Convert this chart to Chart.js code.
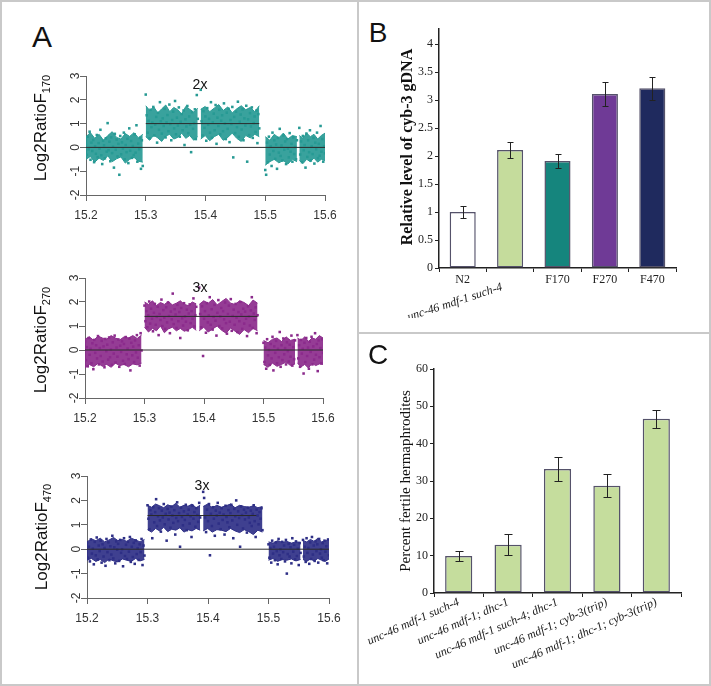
<!DOCTYPE html>
<html>
<head>
<meta charset="utf-8">
<script src="https://cdn.jsdelivr.net/npm/chart.js@4.4.1/dist/chart.umd.min.js"></script>
<style>
  body { margin: 0; background: #fff; }
  #fig { position: relative; width: 711px; height: 686px; overflow: hidden; background: #fff; }
  .line { position: absolute; background: #c9c9c9; }
  canvas { position: absolute; }
  .txt { position: absolute; transform: translate(-50%, -50%); white-space: nowrap; line-height: 1; color: #111; }
  .rot { transform: translate(-50%, -50%) rotate(-90deg); }
  .sans { font-family: "Liberation Sans", Arial, sans-serif; }
  .serif { font-family: "Liberation Serif", "Times New Roman", serif; }
</style>
</head>
<body>
<div id="fig">
  <div class="line" style="left:0;top:0;width:711px;height:2px"></div>
  <div class="line" style="left:0;top:684px;width:711px;height:2px"></div>
  <div class="line" style="left:0;top:0;width:2px;height:686px"></div>
  <div class="line" style="left:709px;top:0;width:2px;height:686px"></div>
  <div class="line" style="left:357px;top:0;width:2px;height:686px"></div>
  <div class="line" style="left:357px;top:332px;width:354px;height:2px"></div>

  <canvas id="a1" width="325" height="166" style="left:20px;top:64px"></canvas>
  <canvas id="a2" width="323" height="167" style="left:20px;top:266px"></canvas>
  <canvas id="a3" width="329" height="169" style="left:20px;top:464px"></canvas>
  <canvas id="b" width="292" height="299" style="left:399px;top:19px"></canvas>
  <canvas id="c" width="336" height="324" style="left:360px;top:359px"></canvas>

  <div class="txt sans" style="left:42px;top:37px;font-size:30px">A</div>
  <div class="txt sans" style="left:378px;top:33px;font-size:28px">B</div>
  <div class="txt sans" style="left:378px;top:355px;font-size:28px">C</div>

  <div class="txt sans" style="left:200px;top:84px;font-size:14px">2x</div>
  <div class="txt sans" style="left:200px;top:287px;font-size:14px">3x</div>
  <div class="txt sans" style="left:202px;top:485px;font-size:14px">3x</div>

  <div class="txt sans rot" style="left:42px;top:128px;font-size:17px">Log2RatioF<sub style="font-size:11px">170</sub></div>
  <div class="txt sans rot" style="left:42px;top:340px;font-size:17px">Log2RatioF<sub style="font-size:11px">270</sub></div>
  <div class="txt sans rot" style="left:43px;top:537px;font-size:17px">Log2RatioF<sub style="font-size:11px">470</sub></div>

  <div class="txt serif rot" style="left:407px;top:147px;font-size:16px;font-weight:bold">Relative level of cyb-3 gDNA</div>
  <div class="txt serif rot" style="left:405px;top:481px;font-size:15px">Percent fertile hermaphrodites</div>
</div>

<script>
// ---- panel A: copy-number probes (Mb on x, log2 ratio on y)
const xTicksA = [15.2, 15.3, 15.4, 15.5, 15.6];
const yTicksA = [-2, -1, 0, 1, 2, 3];
const segStart = [15.2, 15.3, 15.392, 15.5, 15.557];
const segEnd = [15.295, 15.387, 15.49, 15.553, 15.6];

// scattered probes, one list per segment
const f170Left = [0.12,-0.31,0.45,-0.08,0.66,-0.52,0.2,-0.15,0.31,-0.62,0.05,-0.27,0.52,-0.41,0.18,-0.05,0.74,-0.33,-0.7,0.28,0.09,-0.46,0.38,-0.18,1.02,-0.12,0.24,-0.58,0.42,-0.24,0.03,-0.85,0.57,-0.1,0.33,-0.38,0.15,-1.15,0.48,-0.29,0.21,-0.05,0.62,-0.5,0.1,-0.2,0.36,-0.66,0.8,-0.14,0.27,-0.44,0.06,-0.32,0.55,-0.22,0.93,-0.6,0.16,-0.08,0.4,-0.9,0.3,-0.78];
const f170GainA = [2.22,1.35,0.62,1.12,0.38,1.58,0.85,1.04,1.7,0.5,0.96,1.28,0.2,1.45,0.74,1.9,1.1,0.58,1.22,0.9,1.62,0.42,1.05,1.36,0.68,1.8,0.98,0.3,1.15,1.5,0.8,1.95,0.55,1.25,0.92,1.68,0.45,1.08,1.4,0.72,1.55,0.1,1.18,0.88,1.74,0.6,1.3,0.95,-0.2,1.48,0.78,1.02,1.6,0.35,2.2,1.2];
const f170GainB = [2.42,1.1,0.5,1.52,0.82,1.3,0.28,1.65,0.95,1.2,0.62,1.9,0.4,1.05,1.42,0.72,1.78,0.15,1.25,0.9,1.58,0.55,1.12,1.35,0.68,1.85,1.0,0.35,1.46,0.78,1.62,0.22,1.15,0.98,1.7,-0.42,1.28,0.6,1.5,0.85,1.92,0.45,1.08,1.38,0.75,1.6,0.3,1.22,0.92,1.75,-0.6,1.18,0.52,1.44,0.88,1.68,0.4,1.02,1.3,0.65,1.55,0.18,1.4,0.8];
const f170RightA = [-0.95,-1.15,0.2,-0.62,0.45,-0.3,0.05,-0.78,0.62,-0.15,0.3,-0.48,0.12,-0.9,0.4,-0.22,0.78,-0.36,0.08,-0.55,0.5,-0.1,0.25,-0.7,0.35,-0.05,-0.42,0.6,-0.18,0.15,-0.6,0.42,-0.28,0.02,-0.5,0.3];
const f170RightB = [0.82,-0.3,0.25,-0.62,0.48,-0.12,0.1,-0.85,0.58,-0.4,0.3,-0.2,0.72,-0.55,0.05,-0.28,0.4,-0.68,0.2,-0.08,0.62,-0.45,0.15,-0.35,0.9,-0.18,0.35,-0.6,0.05,-0.25];
// upper / lower edge of the dense cloud in each segment
const f170Upper = [
  [0.45,0.62,0.38,0.55,0.3,0.5,0.66,0.42,0.35,0.58,0.46,0.62,0.4,0.55],
  [1.75,1.55,1.7,1.45,1.62,1.78,1.5,1.68,1.58,1.4,1.72,1.6,1.48,1.65],
  [1.6,1.72,1.5,1.65,1.8,1.55,1.7,1.45,1.62,1.75,1.58,1.68,1.5,1.75],
  [0.45,0.3,0.55,0.4,0.6,0.35,0.5,0.45],
  [0.5,0.38,0.6,0.45,0.55,0.35,0.5,0.6],
];
const f170Lower = [
  [-0.5,-0.38,-0.62,-0.45,-0.55,-0.35,-0.6,-0.48,-0.4,-0.66,-0.5,-0.42,-0.58,-0.62],
  [0.45,0.3,0.52,0.4,0.25,0.48,0.55,0.35,0.42,0.6,0.38,0.5,0.3,0.45],
  [0.35,0.5,0.28,0.45,0.55,0.3,0.42,0.6,0.38,0.25,0.5,0.4,0.55,0.45],
  [-0.75,-0.6,-0.5,-0.65,-0.55,-0.7,-0.5,-0.6],
  [-0.55,-0.68,-0.5,-0.6,-0.45,-0.62,-0.5,-0.55],
];
const f170Gain = 1.0;

const f270Left = [0.35,-0.42,0.12,-0.68,0.5,-0.2,0.05,-0.55,0.28,-0.8,0.42,-0.12,0.2,-0.35,0.58,-0.6,0.08,-0.25,0.38,-0.48,0.15,-0.72,0.46,-0.05,0.22,-0.4,0.52,-0.3,0.02,-0.62,0.32,-0.15,0.6,-0.52,0.1,-0.28,0.44,-0.7,0.18,-0.08,0.36,-0.45,0.25,-0.58,0.54,-0.18,0.06,-0.38,0.48,-0.85,0.3,-0.22,0.14,-0.5,0.4,-0.1,0.62,-0.32,0.2,-0.65,0.7,-0.02];
const f270GainA = [1.85,1.2,1.62,0.95,1.45,2.02,1.1,1.72,1.3,0.78,1.55,1.92,1.05,1.38,1.8,0.62,1.5,1.25,2.1,1.0,1.66,1.35,0.88,1.78,1.15,1.98,1.42,0.7,1.6,1.28,2.35,1.08,1.7,1.48,0.92,1.88,1.2,1.58,0.5,1.75,1.32,1.02,1.95,1.4,1.18,1.68,0.82,1.52,1.9,1.12,1.62,1.3,2.15,0.98,1.45,1.8];
const f270GainB = [2.6,1.5,0.95,1.82,-0.25,1.3,1.62,0.72,1.95,1.15,1.45,2.2,1.05,1.7,0.85,1.38,1.88,1.22,0.6,1.55,2.08,1.0,1.4,1.75,0.9,1.62,1.28,1.98,1.12,0.68,1.5,1.85,1.18,2.12,0.8,1.42,1.68,1.05,1.92,1.35,0.75,1.58,1.2,2.0,1.48,0.88,1.72,1.1,1.6,1.3,0.58,1.82,1.4,1.02,1.65,2.2,0.92,1.52,1.25,1.78,0.7,1.45];
const f270RightA = [0.3,-0.5,0.1,-0.78,0.45,-0.22,0.0,-0.62,0.25,-0.35,0.55,-0.85,0.15,-0.12,0.38,-0.55,0.05,-0.3,0.75,-0.7,0.2,-0.42,0.48,-0.18,0.08,-0.6,0.32,-0.05,-0.48,0.22,-0.28,0.6,-0.65,0.12,-0.38,0.4];
const f270RightB = [0.62,-0.35,0.2,-0.7,0.42,-0.15,0.05,-0.98,0.3,-0.5,0.5,-0.25,0.1,-0.78,0.35,-0.08,0.55,-0.6,0.15,-0.4,0.7,-0.2,0.25,-0.88,0.4,-0.3,0.08,-0.55,0.45,-0.12];
const f270Upper = [
  [0.45,0.55,0.4,0.58,0.5,0.45,0.6,0.5,0.42,0.55,0.5,0.6,0.48,0.62],
  [2.0,1.9,2.05,1.85,1.98,1.9,2.02,1.88,1.95,2.05,1.9,1.85,2.0,1.92],
  [1.9,2.05,1.95,2.1,1.88,2.02,2.15,1.95,1.9,2.05,1.98,1.85,2.08,1.95],
  [0.4,0.3,0.45,0.5,0.35,0.55,0.4,0.45],
  [0.5,0.4,0.55,0.35,0.5,0.45,0.6,0.5],
];
const f270Lower = [
  [-0.75,-0.6,-0.7,-0.55,-0.68,-0.6,-0.72,-0.55,-0.65,-0.6,-0.7,-0.58,-0.62,-0.55],
  [0.95,0.75,0.9,0.8,1.0,0.72,0.88,0.95,0.8,0.9,0.78,0.85,0.95,0.82],
  [0.8,0.95,0.75,0.88,1.0,0.82,0.7,0.92,0.78,0.65,0.85,0.72,0.9,0.8],
  [-0.6,-0.72,-0.55,-0.68,-0.6,-0.5,-0.65,-0.58],
  [-0.55,-0.7,-0.6,-0.75,-0.55,-0.65,-0.58,-0.6],
];
const f270Gain = 1.4;

const f470Left = [0.25,-0.35,0.1,-0.5,0.4,-0.18,0.02,-0.62,0.3,-0.25,0.48,-0.42,0.15,-0.08,0.35,-0.55,0.2,-0.3,0.05,-0.68,0.42,-0.12,0.28,-0.45,0.12,-0.22,0.55,-0.38,0.08,-0.58,0.32,-0.02,0.22,-0.48,0.38,-0.15,0.0,-0.7,0.45,-0.28,0.18,-0.4,0.3,-0.1,0.5,-0.52,0.1,-0.32,0.26,-0.6,0.36,-0.2,0.04,-0.44,0.2,-0.12,0.42,-0.65,0.15,-0.26];
const f470GainA = [1.8,1.25,0.82,1.6,1.42,0.45,1.72,1.1,1.52,2.05,0.95,1.35,1.68,1.18,0.72,1.58,1.3,1.85,1.02,1.45,0.35,1.65,1.22,1.5,0.88,1.75,1.38,1.08,1.6,0.6,1.28,1.92,1.15,1.48,0.1,1.7,1.32,0.98,1.55,1.2,1.82,0.78,1.42,1.62,1.05,1.35,0.5,1.78,1.25,1.52,0.92,1.68,1.4,1.12,1.9,1.3];
const f470GainB = [2.35,2.1,1.3,0.7,1.62,1.15,1.85,-0.25,1.45,0.95,1.72,1.25,0.55,1.58,1.38,1.9,1.05,1.5,0.82,1.68,1.2,1.42,0.6,1.78,1.32,1.1,1.6,0.9,1.48,1.82,1.18,0.45,1.65,1.35,2.0,1.0,1.55,1.28,0.1,1.75,1.4,0.85,1.62,1.22,1.5,0.68,1.7,1.3,1.08,1.58,0.95,1.45,1.8,1.15,0.5,1.62,1.38,1.02,1.52,1.25,1.68,0.78];
const f470RightA = [0.2,-0.35,0.05,-0.55,0.35,-0.18,0.1,-0.45,0.28,-0.08,-0.62,0.42,-0.25,0.0,-0.4,0.3,-0.12,0.15,-0.5,0.38,-1.0,-0.2,0.22,-0.3,0.08,-0.58,0.45,-0.1,0.18,-0.42,0.32,-0.28,0.02,-0.65,0.25,-0.15];
const f470RightB = [0.38,-0.3,0.1,-0.52,0.45,-0.15,0.05,-0.6,0.28,-0.4,0.5,-0.22,0.15,-0.48,0.32,-0.08,0.2,-0.55,0.42,-0.18,0.0,-0.35,0.25,-0.45,0.35,-0.1,0.12,-0.58,0.4,-0.25];
const f470Upper = [
  [0.3,0.42,0.35,0.45,0.3,0.38,0.48,0.35,0.4,0.32,0.45,0.38,0.3,0.4],
  [1.8,1.72,1.85,1.78,1.7,1.82,1.75,1.88,1.72,1.8,1.76,1.85,1.7,1.8],
  [1.75,1.85,1.7,1.8,1.72,1.78,1.85,1.7,1.8,1.75,1.72,1.78,1.7,1.75],
  [0.3,0.25,0.35,0.28,0.32,0.25,0.3,0.28],
  [0.35,0.3,0.4,0.32,0.45,0.3,0.35,0.4],
];
const f470Lower = [
  [-0.45,-0.38,-0.5,-0.42,-0.55,-0.4,-0.48,-0.52,-0.4,-0.45,-0.5,-0.38,-0.48,-0.42],
  [0.8,0.7,0.85,0.75,0.9,0.72,0.82,0.78,0.88,0.7,0.8,0.75,0.85,0.78],
  [0.75,0.85,0.7,0.8,0.78,0.72,0.85,0.75,0.68,0.8,0.72,0.6,0.78,0.7],
  [-0.45,-0.38,-0.5,-0.42,-0.45,-0.4,-0.48,-0.42],
  [-0.42,-0.5,-0.4,-0.48,-0.38,-0.45,-0.5,-0.4],
];
const f470Gain = 1.38;

// ---- panel B
const bLabels = ['N2', 'unc-46 mdf-1 such-4', 'F170', 'F270', 'F470'];
const bValues = [1.0, 2.11, 1.91, 3.11, 3.21];
const bErrors = [0.1, 0.14, 0.12, 0.22, 0.2];
const bColors = ['#ffffff', '#c5dc9c', '#15857d', '#6f3a96', '#1f2a5e'];
const bTicks = [0, 0.5, 1, 1.5, 2, 2.5, 3, 3.5, 4];

// ---- panel C
const cLabels = ['unc-46 mdf-1 such-4', 'unc-46 mdf-1; dhc-1', 'unc-46 mdf-1 such-4; dhc-1', 'unc-46 mdf-1; cyb-3(trip)', 'unc-46 mdf-1; dhc-1; cyb-3(trip)'];
const cValues = [9.9, 12.9, 33.2, 28.7, 46.7];
const cErrors = [1.4, 2.8, 3.3, 3.1, 2.4];
const cTicks = [0, 10, 20, 30, 40, 50, 60];

const SANS = '"Liberation Sans", Arial, sans-serif';
const SERIF = '"Liberation Serif", "Times New Roman", serif';

function fixSize(w, h) {
  return (s) => {
    if (w !== null) s.width = w;
    if (h !== null) s.height = h;
    s.paddingLeft = 0; s.paddingRight = 0; s.paddingTop = 0; s.paddingBottom = 0;
  };
}

function setTicks(values) {
  return (s) => { s.ticks = values.map((v) => ({ value: v })); };
}

// probes sit in order along their segment
function alongSegment(k, vals) {
  return vals.map((v, i) => ({ x: segStart[k] + (segEnd[k] - segStart[k]) * i / (vals.length - 1), y: v }));
}

const errorBars = {
  id: 'errorBars',
  afterDatasetsDraw(chart, args, opts) {
    const ctx = chart.ctx;
    const y = chart.scales.y;
    const meta = chart.getDatasetMeta(0);
    const vals = chart.data.datasets[0].data;
    ctx.save();
    ctx.strokeStyle = '#222';
    ctx.lineWidth = 1;
    meta.data.forEach((bar, i) => {
      const top = Math.round(y.getPixelForValue(vals[i] + opts.errors[i])) + 0.5;
      const bot = Math.round(y.getPixelForValue(vals[i] - opts.errors[i])) + 0.5;
      const x = Math.round(bar.x) + 0.5;
      ctx.beginPath();
      ctx.moveTo(x, top); ctx.lineTo(x, bot);
      ctx.moveTo(x - opts.cap, top); ctx.lineTo(x + opts.cap, top);
      ctx.moveTo(x - opts.cap, bot); ctx.lineTo(x + opts.cap, bot);
      ctx.stroke();
    });
    ctx.restore();
  }
};

const slantLabel = {
  id: 'slantLabel',
  afterDraw(chart, args, opts) {
    const ctx = chart.ctx;
    const x = chart.scales.x.getPixelForValue(opts.index);
    const y = chart.scales.x.top;
    ctx.save();
    ctx.translate(x + opts.dx, y + opts.dy);
    ctx.rotate(-opts.angle * Math.PI / 180);
    ctx.font = 'italic 12px ' + SERIF;
    ctx.fillStyle = '#222';
    ctx.textAlign = 'right';
    ctx.textBaseline = 'middle';
    ctx.fillText(bLabels[opts.index], 0, 0);
    ctx.restore();
  }
};

function copyPanel(id, yWidth, color, segments, upper, lower, gain, gainEnd) {
  const datasets = [
    { type: 'line', data: [{ x: 15.2, y: 0 }, { x: 15.6, y: 0 }], borderColor: '#2a2a2a', borderWidth: 1, pointRadius: 0, order: 0 },
    { type: 'line', data: [{ x: 15.3, y: gain }, { x: gainEnd, y: gain }], borderColor: '#2a2a2a', borderWidth: 1, pointRadius: 0, order: 0 },
  ];
  segments.forEach((vals, k) => {
    datasets.push({
      type: 'scatter',
      data: alongSegment(k, vals),
      pointStyle: 'rect',
      pointRadius: 1.8,
      pointBorderWidth: 0,
      pointBackgroundColor: color,
      order: 1,
    });
    datasets.push({
      type: 'line', data: alongSegment(k, lower[k]), fill: false,
      borderColor: color, borderWidth: 1, pointRadius: 0, order: 2,
    });
    datasets.push({
      type: 'line', data: alongSegment(k, upper[k]), fill: '-1',
      backgroundColor: color + 'ea', borderColor: color, borderWidth: 1, pointRadius: 0, order: 2,
    });
  });

  const axisGrid = { display: true, drawOnChartArea: false, drawTicks: true, tickLength: 6, color: '#666', lineWidth: 1 };
  new Chart(document.getElementById(id), {
    type: 'scatter',
    data: { datasets },
    options: {
      responsive: false,
      animation: false,
      events: [],
      layout: { padding: { left: 0, right: 20, top: 12, bottom: 0 } },
      plugins: { legend: { display: false }, tooltip: { enabled: false } },
      scales: {
        x: {
          type: 'linear', min: 15.2, max: 15.6,
          afterBuildTicks: setTicks(xTicksA),
          afterFit: fixSize(null, 35),
          grid: axisGrid,
          border: { display: true, color: '#666', width: 1 },
          ticks: { color: '#333', font: { family: SANS, size: 12 }, padding: 7, maxRotation: 0, autoSkip: false, callback: (v) => v.toFixed(1) },
        },
        y: {
          type: 'linear', min: -2, max: 3,
          afterBuildTicks: setTicks(yTicksA),
          afterFit: fixSize(yWidth, null),
          grid: axisGrid,
          border: { display: true, color: '#666', width: 1 },
          ticks: { color: '#333', font: { family: SANS, size: 12 }, minRotation: 90, maxRotation: 90, crossAlign: 'center', padding: -1, autoSkip: false, callback: (v) => String(v) },
        },
      },
    },
  });
}

copyPanel('a1', 66, '#279a94', [f170Left, f170GainA, f170GainB, f170RightA, f170RightB], f170Upper, f170Lower, f170Gain, 15.49);
copyPanel('a2', 65, '#8b2b8c', [f270Left, f270GainA, f270GainB, f270RightA, f270RightB], f270Upper, f270Lower, f270Gain, 15.49);
copyPanel('a3', 67, '#2e2f86', [f470Left, f470GainA, f470GainB, f470RightA, f470RightB], f470Upper, f470Lower, f470Gain, 15.48);

function barPanel(id, yWidth, labels, values, colors, ticks, yMax, errors, cap, xOpts, plugins, pluginOpts) {
  new Chart(document.getElementById(id), {
    type: 'bar',
    data: {
      labels,
      datasets: [{
        data: values,
        backgroundColor: colors,
        borderColor: '#55526a',
        borderWidth: 1.5,
        borderSkipped: false,
        barPercentage: 0.55,
        categoryPercentage: 1,
      }],
    },
    plugins: [errorBars].concat(plugins),
    options: {
      responsive: false,
      animation: false,
      events: [],
      layout: { padding: { left: 0, right: 15, top: 10, bottom: 0 } },
      plugins: Object.assign({ legend: { display: false }, tooltip: { enabled: false }, errorBars: { errors, cap } }, pluginOpts),
      scales: {
        x: Object.assign({
          grid: { display: true, offset: true, drawOnChartArea: false, drawTicks: true, tickLength: 4, color: '#222' },
          border: { display: true, color: '#222', width: 1.5 },
        }, xOpts),
        y: {
          min: 0, max: yMax,
          afterBuildTicks: setTicks(ticks),
          afterFit: fixSize(yWidth, null),
          grid: { display: true, drawOnChartArea: false, drawTicks: true, tickLength: 4, color: '#222' },
          border: { display: true, color: '#222', width: 1.5 },
          ticks: { color: '#222', font: { family: SERIF, size: 12 }, padding: 2, autoSkip: false, callback: (v) => String(v) },
        },
      },
    },
  });
}

barPanel('b', 40, bLabels, bValues, bColors, bTicks, 4.27, bErrors, 3, {
  afterFit: fixSize(null, 50),
  ticks: { color: '#222', font: { family: SERIF, size: 12 }, padding: 1, maxRotation: 0, autoSkip: false, callback: (v, i) => (i === 1 ? '' : bLabels[i]) },
}, [slantLabel], { slantLabel: { index: 1, angle: 18, dx: -8, dy: 19 } });

barPanel('c', 74, cLabels, cValues, cValues.map(() => '#c5dd9d'), cTicks, 60, cErrors, 4, {
  afterFit: fixSize(null, 90),
  ticks: { color: '#222', font: { family: SERIF, size: 12, style: 'italic' }, padding: -2, minRotation: 24, maxRotation: 24, autoSkip: false },
}, [], {});
</script>
</body>
</html>
